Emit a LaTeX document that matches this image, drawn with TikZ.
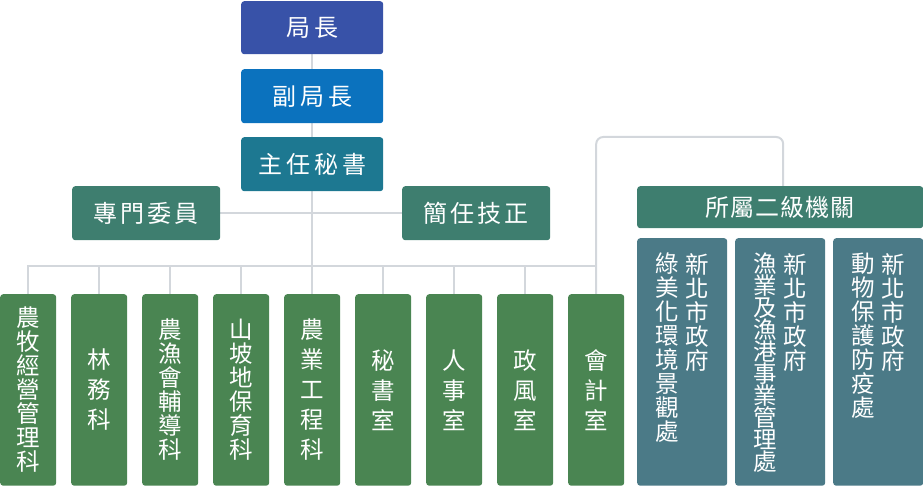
\documentclass[tikz,border=0pt]{standalone}
\usepackage{fontspec}
\setmainfont{Noto Sans CJK TC}
\pgfdeclarelayer{bg}\pgfsetlayers{bg,main}
\definecolor{cA}{HTML}{3852A8}
\definecolor{cB}{HTML}{0B72BE}
\definecolor{cC}{HTML}{1D7891}
\definecolor{cD}{HTML}{3E7E6F}
\definecolor{cG}{HTML}{4A8552}
\definecolor{cR}{HTML}{4B7A87}
\definecolor{lc}{HTML}{D3D7DC}
\newcommand\kk{\kern4pt}
\newcommand\kb{\kern3pt}
\newcommand\kc{\kern1pt}
\newcommand\nolsk{\lineskiplimit-20pt\relax}
\newcommand\vfa{\fontsize{23.5}{24}\selectfont\nolsk}
\newcommand\vfb{\fontsize{23.5}{30}\selectfont\nolsk}
\newcommand\vfc{\fontsize{23.5}{22}\selectfont\nolsk}
\begin{document}
\begin{tikzpicture}[x=1pt,y=-1pt,
  box/.style={rounded corners=3pt, inner sep=0pt, text=white, anchor=north west, align=center},
  hs/.style={font=\fontsize{24}{24}\selectfont},
  vs/.style={font=\vfa},
  vw/.style={font=\vfb},
  vn/.style={font=\vfc},
  gbox/.style={box, fill=cG, minimum width=56pt, minimum height=191.5pt},
  rbox/.style={box, fill=cR, minimum width=90pt, minimum height=247.5pt},
  coltext/.style={inner sep=0pt, text=white, align=center, anchor=north, vs},
  conn/.style={draw=lc, line width=2pt}]
\useasboundingbox (0,0) rectangle (923,486);
% top chain
\node[box, fill=cA, minimum width=142pt, minimum height=53pt, hs] (jz) at (241,1) {局\kk 長};
\node[box, fill=cB, minimum width=142pt, minimum height=54pt, hs] (fj) at (241,69) {副\kk 局\kk 長};
\node[box, fill=cC, minimum width=142pt, minimum height=54pt, hs] (zr) at (241,137) {主\kk 任\kk 秘\kk 書};
\node[box, fill=cD, minimum width=148pt, minimum height=54pt, hs] (zm) at (72,186) {專\kb 門\kb 委\kb 員};
\node[box, fill=cD, minimum width=148pt, minimum height=54pt, hs] (jr) at (402,186) {簡\kb 任\kb 技\kb 正};
\node[box, fill=cD, minimum width=286pt, minimum height=42pt, hs] (sj) at (637,186) {所\kc 屬\kc 二\kc 級\kc 機\kc 關};
% bottom units
\node[gbox, vs] (b1) at (0,294) {農\\牧\\經\\營\\管\\理\\科};
\node[gbox, vw] (b2) at (71,294) {林\\務\\科};
\node[gbox, vs] (b3) at (142,294) {農\\漁\\會\\輔\\導\\科};
\node[gbox, vs] (b4) at (213,294) {山\\坡\\地\\保\\育\\科};
\node[gbox, vw] (b5) at (284,294) {農\\業\\工\\程\\科};
\node[gbox, vw] (b6) at (355,294) {秘\\書\\室};
\node[gbox, vw] (b7) at (426,294) {人\\事\\室};
\node[gbox, vw] (b8) at (497,294) {政\\風\\室};
\node[gbox, vw] (b9) at (568,294) {會\\計\\室};
% second-level agencies
\node[rbox] (r1) at (637,238) {};
\node[rbox] (r2) at (735,238) {};
\node[rbox] (r3) at (833,238) {};
\node[coltext] (r1a) at ([xshift=15pt,yshift=-15pt]r1.north) {新\\北\\市\\政\\府};
\node[coltext] (r1b) at ([xshift=-15pt,yshift=-15pt]r1.north) {綠\\美\\化\\環\\境\\景\\觀\\處};
\node[coltext] (r2a) at ([xshift=15pt,yshift=-15pt]r2.north) {新\\北\\市\\政\\府};
\node[coltext, vn] (r2b) at ([xshift=-15pt,yshift=-15pt]r2.north) {漁\\業\\及\\漁\\港\\事\\業\\管\\理\\處};
\node[coltext] (r3a) at ([xshift=15pt,yshift=-15pt]r3.north) {新\\北\\市\\政\\府};
\node[coltext] (r3b) at ([xshift=-15pt,yshift=-15pt]r3.north) {動\\物\\保\\護\\防\\疫\\處};
% connectors
\begin{pgfonlayer}{bg}
\draw[conn] (jz.south) -- (jz.south |- b5.north);
\draw[conn] (zm.east) -- (jr.west);
\draw[conn] (b1.north) -- ++(0,-28) -| (b9.north);
\foreach \b in {b2,b3,b4,b5,b6,b7,b8}{\draw[conn] (\b.north) -- ++(0,-28);}
\draw[conn, rounded corners=7pt] (b9.north) -- (b9.north |- 0,137) -| ([xshift=3pt]sj.north);
\end{pgfonlayer}
\end{tikzpicture}
\end{document}
